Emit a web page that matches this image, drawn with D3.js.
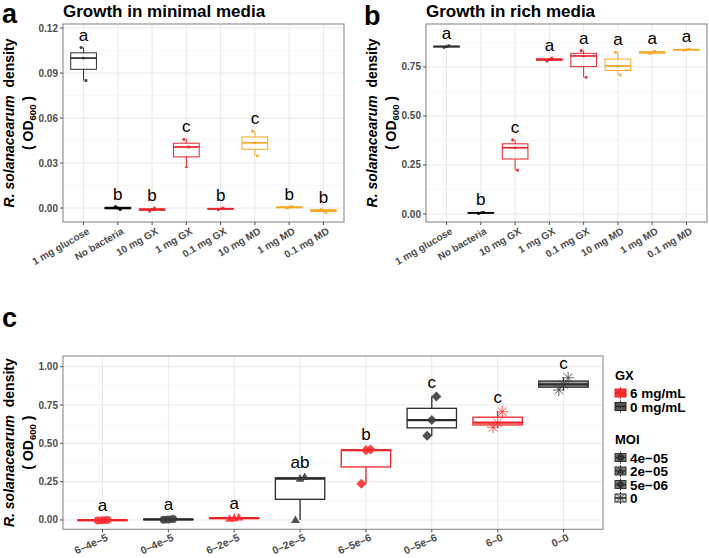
<!DOCTYPE html>
<html><head><meta charset="utf-8">
<script src="https://cdn.jsdelivr.net/npm/d3@7"></script>
<style>body{margin:0;background:#fff}svg{font-family:"Liberation Sans",Arial,sans-serif}</style>
</head><body><svg id="chart" width="709" height="558"></svg>
<script>
// ---------------- DATA ----------------
const mediaCategories = ["1 mg glucose","No bacteria","10 mg GX","1 mg GX","0.1 mg GX","10 mg MD","1 mg MD","0.1 mg MD"];
const mediaGroups = ["glucose","none","GX","GX","GX","MD","MD","MD"];
// replicate values (OD600) for minimal media
const minimalValues = [
  [0.107, 0.100, 0.085],
  [0.001, 0.000, -0.001],
  [-0.002, -0.001, 0.000],
  [0.0458, 0.0275, 0.0407],
  [-0.001, -0.0005, 0.000],
  [0.0513, 0.0435, 0.0349],
  [0.000, 0.0005, 0.001],
  [-0.001, -0.0015, -0.003]
];
const minimalLetters = ["a","b","b","c","b","c","b","b"];
const minimalTicks = [0, 0.03, 0.06, 0.09, 0.12];
// rich media
const richValues = [
  [0.850, 0.854, 0.858],
  [0.003, 0.006, 0.008],
  [0.378, 0.338, 0.223],
  [0.780, 0.788, 0.795],
  [0.833, 0.806, 0.697],
  [0.825, 0.755, 0.709],
  [0.818, 0.824, 0.830],
  [0.835, 0.838, 0.840]
];
const richLetters = ["a","b","c","a","a","a","a","a"];
const richTicks = [0, 0.25, 0.50, 0.75];
// panel c
const moiCategories = ["6–4e–5","0–4e–5","6–2e–5","0–2e–5","6–5e–6","0–5e–6","6–0","0–0"];
const moiGX = ["6 mg/mL","0 mg/mL","6 mg/mL","0 mg/mL","6 mg/mL","0 mg/mL","6 mg/mL","0 mg/mL"];
const moiLevel = ["4e−05","4e−05","2e−05","2e−05","5e−06","5e−06","0","0"];
const moiValues = [
  [-0.003, -0.001, 0.000],
  [0.002, 0.004, 0.006],
  [0.008, 0.012, 0.016],
  [0.000, 0.270, 0.280],
  [0.237, 0.455, 0.460],
  [0.550, 0.652, 0.805],
  [0.605, 0.635, 0.706],
  [0.848, 0.885, 0.928]
];
const moiLetters = ["a","a","a","ab","b","c","c","c"];
const moiTicks = [0, 0.25, 0.50, 0.75, 1.00];
const gxLegend = ["6 mg/mL","0 mg/mL"];
const moiLegend = ["4e−05","2e−05","5e−06","0"];

// ---------------- STYLES ----------------
const groupColor = d3.scaleOrdinal().domain(["glucose","none","GX","MD"]).range(["#2b2b2b","#000000","#e8252b","#f3a925"]);
const gxColor = d3.scaleOrdinal().domain(["6 mg/mL","0 mg/mL"]).range(["#ee2228","#2a2a2a"]);
const gxPoint = d3.scaleOrdinal().domain(["6 mg/mL","0 mg/mL"]).range(["#ff2a2a","#3a3a3a"]);
const moiShape = d3.scaleOrdinal().domain(moiLegend).range(["circle","triangle","diamond","asterisk"]);

const svg = d3.select("#chart");

function boxStats(v){
  const s = v.slice().sort(d3.ascending);
  const q1 = d3.quantile(s,0.25), med = d3.quantile(s,0.5), q3 = d3.quantile(s,0.75);
  const iqr = q3-q1;
  const lo = d3.min(s.filter(x=>x>=q1-1.5*iqr)), hi = d3.max(s.filter(x=>x<=q3+1.5*iqr));
  return {q1,med,q3,lo,hi,max:d3.max(s)};
}

function drawShape(g, shape, cx, cy, r, color, opacity){
  if(shape==="circle"){
    g.append("circle").attr("cx",cx).attr("cy",cy).attr("r",r).attr("fill",color).attr("fill-opacity",opacity);
  } else if(shape==="triangle"){
    const h = r*1.9;
    g.append("path").attr("d",`M${cx},${cy-h*0.6}L${cx+r*1.1},${cy+h*0.4}L${cx-r*1.1},${cy+h*0.4}Z`).attr("fill",color).attr("fill-opacity",opacity);
  } else if(shape==="diamond"){
    const d = r*1.25;
    g.append("path").attr("d",`M${cx},${cy-d}L${cx+d},${cy}L${cx},${cy+d}L${cx-d},${cy}Z`).attr("fill",color).attr("fill-opacity",opacity);
  } else if(shape==="square"){
    g.append("rect").attr("x",cx-r*0.85).attr("y",cy-r*0.85).attr("width",r*1.7).attr("height",r*1.7).attr("fill",color).attr("fill-opacity",opacity);
  } else if(shape==="asterisk"){
    const d = r*1.5, e = d*0.72;
    g.append("path").attr("d",`M${cx-d},${cy}L${cx+d},${cy}M${cx},${cy-d}L${cx},${cy+d}M${cx-e},${cy-e}L${cx+e},${cy+e}M${cx-e},${cy+e}L${cx+e},${cy-e}`)
      .attr("stroke",color).attr("stroke-width",0.9).attr("stroke-opacity",opacity).attr("fill","none");
  }
}

function panel(o){
  const g = svg.append("g");
  const x = d3.scalePoint().domain(o.cats).range([o.x0,o.x0+o.w]).padding(0.6);
  const y = d3.scaleLinear().domain(o.domain).range([o.y0+o.h,o.y0]);
  const step = x.step();
  // grid
  const stepT = o.ticks[1]-o.ticks[0];
  const minor = d3.range(o.ticks[0]-stepT/2, o.domain[1], stepT).filter(v=>v>o.domain[0]&&v<o.domain[1]);
  g.selectAll(".mn").data(minor).join("line").attr("x1",o.x0).attr("x2",o.x0+o.w)
    .attr("y1",d=>y(d)).attr("y2",d=>y(d)).attr("stroke","#f2f2f2").attr("stroke-width",0.6);
  g.selectAll(".mj").data(o.ticks).join("line").attr("x1",o.x0).attr("x2",o.x0+o.w)
    .attr("y1",d=>y(d)).attr("y2",d=>y(d)).attr("stroke","#e8e8e8").attr("stroke-width",1);
  g.selectAll(".vx").data(o.cats).join("line").attr("x1",d=>x(d)).attr("x2",d=>x(d))
    .attr("y1",o.y0).attr("y2",o.y0+o.h).attr("stroke","#e8e8e8").attr("stroke-width",1);
  // boxes
  o.cats.forEach((c,i)=>{
    const st = boxStats(o.values[i]);
    const col = o.boxColor(i);
    const cx = x(c), bw = step*0.75;
    g.append("line").attr("x1",cx).attr("x2",cx).attr("y1",y(st.hi)).attr("y2",y(st.q3)).attr("stroke",col).attr("stroke-width",o.lw);
    g.append("line").attr("x1",cx).attr("x2",cx).attr("y1",y(st.q1)).attr("y2",y(st.lo)).attr("stroke",col).attr("stroke-width",o.lw);
    g.append("rect").attr("x",cx-bw/2).attr("width",bw).attr("y",y(st.q3)).attr("height",Math.max(0.5,y(st.q1)-y(st.q3)))
      .attr("fill",o.boxFill?o.boxFill(i):"none").attr("stroke",col).attr("stroke-width",o.lw);
    g.append("line").attr("x1",cx-bw/2).attr("x2",cx+bw/2).attr("y1",y(st.med)).attr("y2",y(st.med)).attr("stroke",col).attr("stroke-width",o.lw*1.7);
    // points
    o.values[i].forEach((v,j)=>{
      const jx = cx + (((i*5+j*7)%5)-2)*0.035*step;
      drawShape(g, o.shapeOf(i,j), jx, y(v), o.pr, o.pointColor(i), o.pop);
    });
    // letter
    g.append("text").attr("x",cx).attr("y",y(st.max)-o.letterGap).attr("text-anchor","middle")
      .attr("font-size",o.letterSize).attr("fill","#000").text(o.letters[i]);
  });
  // border
  g.append("rect").attr("x",o.x0).attr("y",o.y0).attr("width",o.w).attr("height",o.h)
    .attr("fill","none").attr("stroke","#8a8a8a").attr("stroke-width",1.1);
  // y axis
  g.selectAll(".yt").data(o.ticks).join("line").attr("x1",o.x0-3).attr("x2",o.x0)
    .attr("y1",d=>y(d)).attr("y2",d=>y(d)).attr("stroke","#4d4d4d");
  g.selectAll(".yl").data(o.ticks).join("text").attr("x",o.x0-5).attr("y",d=>y(d)).attr("dy","0.35em")
    .attr("text-anchor","end").attr("font-size",10).attr("font-weight","bold").attr("fill","#4d4d4d").text(d3.format(".2f"));
  // x axis
  g.selectAll(".xt").data(o.cats).join("line").attr("x1",d=>x(d)).attr("x2",d=>x(d))
    .attr("y1",o.y0+o.h).attr("y2",o.y0+o.h+3).attr("stroke","#4d4d4d");
  g.selectAll(".xl").data(o.cats).join("text")
    .attr("transform",d=>`translate(${x(d)+3},${o.y0+o.h+o.xly}) rotate(${-o.xAngle})`)
    .attr("dy","0.72em").attr("text-anchor","end").attr("font-size",o.xls).attr("font-weight","bold").attr("fill","#4d4d4d").text(d=>d);
  // y title
  const yc = o.y0+o.h/2;
  const t1 = g.append("text").attr("transform",`translate(${o.x0-49},${yc}) rotate(-90)`).attr("text-anchor","middle")
    .attr("font-size",14).attr("font-weight","bold").attr("fill","#000");
  t1.append("tspan").attr("font-style","italic").text("R. solanacearum");
  t1.append("tspan").text("\u00a0 density");
  const t2 = g.append("text").attr("transform",`translate(${o.x0-30},${yc}) rotate(-90)`).attr("text-anchor","middle")
    .attr("font-size",14).attr("font-weight","bold").attr("fill","#000");
  t2.append("tspan").text("( OD");
  t2.append("tspan").attr("font-size",9.5).attr("dy",3).text("600");
  t2.append("tspan").attr("dy",-3).text(" )");
  // title and tag
  if(o.title) g.append("text").attr("x",o.x0).attr("y",17).attr("font-size",17).attr("font-weight","bold").text(o.title);
  g.append("text").attr("x",o.tagX).attr("y",o.tagY).attr("font-size",27).attr("font-weight","bold").text(o.tag);
  return g;
}

const abShapes = ["circle","triangle","square"];
panel({x0:63,y0:24,w:281,h:198,cats:mediaCategories,values:minimalValues,letters:minimalLetters,
  domain:[-0.0093,0.1227],ticks:minimalTicks,boxColor:i=>groupColor(mediaGroups[i]),pointColor:i=>groupColor(mediaGroups[i]),
  shapeOf:(i,j)=>abShapes[j],pr:1.6,pop:0.9,lw:1,letterGap:7,letterSize:17,xls:10,xAngle:30,xly:5,title:"Growth in minimal media",tag:"a",tagX:2,tagY:23});
panel({x0:426,y0:24,w:281,h:198,cats:mediaCategories,values:richValues,letters:richLetters,
  domain:[-0.0408,0.969],ticks:richTicks,boxColor:i=>groupColor(mediaGroups[i]),pointColor:i=>groupColor(mediaGroups[i]),
  shapeOf:(i,j)=>abShapes[j],pr:1.6,pop:0.9,lw:1,letterGap:7,letterSize:17,xls:10,xAngle:30,xly:5,title:"Growth in rich media",tag:"b",tagX:364,tagY:25});
panel({x0:63,y0:356,w:540,h:173.3,cats:moiCategories,values:moiValues,letters:moiLetters,
  domain:[-0.0607,1.0698],ticks:moiTicks,boxColor:i=>gxColor(moiGX[i]),pointColor:i=>gxPoint(moiGX[i]),
  boxFill:i=>moiLevel[i]==="0"&&moiGX[i]==="0 mg/mL"?"#a3a3a3":"#fff",
  shapeOf:(i,j)=>moiShape(moiLevel[i]),pr:4,pop:0.88,lw:1.3,letterGap:9,letterSize:17,xls:10.5,xAngle:24,xly:4,title:null,tag:"c",tagX:2,tagY:327});

// legend
const lg = svg.append("g");
function keyGlyph(cx, cy, fill, stroke){
  lg.append("line").attr("x1",cx).attr("x2",cx).attr("y1",cy-6).attr("y2",cy+6).attr("stroke",stroke).attr("stroke-width",1);
  lg.append("rect").attr("x",cx-5.5).attr("y",cy-4).attr("width",11).attr("height",8).attr("fill",fill).attr("stroke",stroke).attr("stroke-width",1);
  lg.append("line").attr("x1",cx-5.5).attr("x2",cx+5.5).attr("y1",cy).attr("y2",cy).attr("stroke",stroke).attr("stroke-width",1.5);
}
lg.append("text").attr("x",615).attr("y",380).attr("font-size",13).attr("font-weight","bold").text("GX");
gxLegend.forEach((d,i)=>{
  const cy = 393 + i*13.5;
  keyGlyph(620.5, cy, d==="6 mg/mL"?"#ff3030":"#555", d==="6 mg/mL"?"#e8252b":"#222");
  lg.append("text").attr("x",630).attr("y",cy+5).attr("font-size",13.5).attr("font-weight","bold").text(d);
});
lg.append("text").attr("x",615).attr("y",444).attr("font-size",13).attr("font-weight","bold").text("MOI");
moiLegend.forEach((d,i)=>{
  const cy = 457.5 + i*13.5;
  const sh = moiShape(d);
  keyGlyph(620.5, cy, sh==="asterisk"?"#ddd":"#777", "#333");
  drawShape(lg, sh, 620.5, cy, sh==="asterisk"?4:3.5, "#333", 1);
  lg.append("text").attr("x",630).attr("y",cy+5).attr("font-size",13.5).attr("font-weight","bold").text(d);
});
</script></body></html>
